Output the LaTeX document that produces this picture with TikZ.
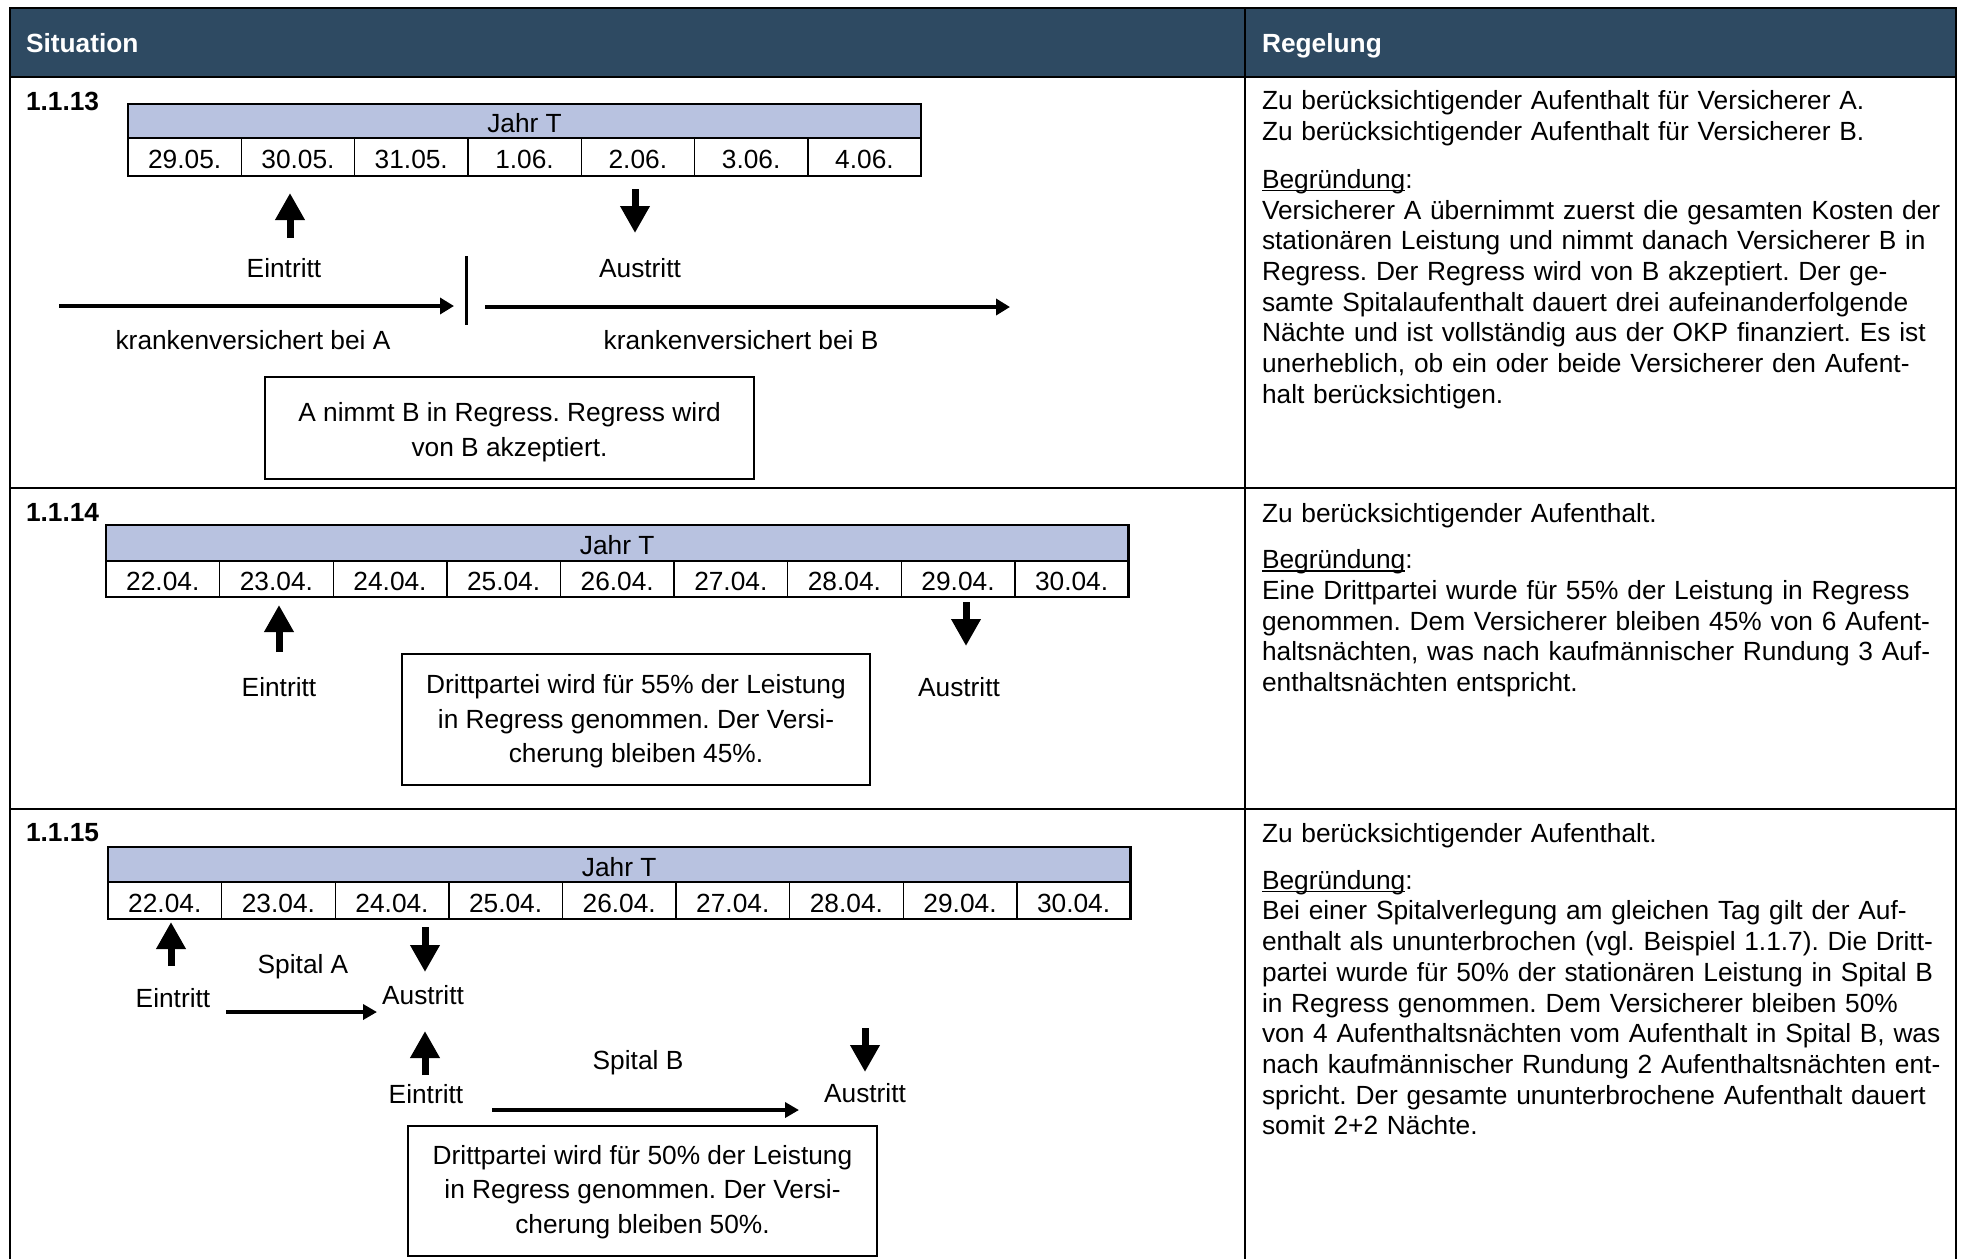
\documentclass[tikz,border=0pt]{standalone}
\usepackage{fontspec}
\setmainfont{Liberation Sans}
\usetikzlibrary{arrows.meta}
\definecolor{hdrblue}{RGB}{46,74,98}
\definecolor{jahrfill}{RGB}{184,194,224}
\newcommand\bodyfs{\fontsize{26.3}{30.7}\selectfont}
\newcommand\boxfs{\fontsize{26.3}{34.5}\selectfont}
\newcommand\ubeg{\leavevmode\setbox0\hbox{Begründung}\rlap{\rule[-2.8pt]{\wd0}{1.3pt}}\box0}
\frenchspacing
\begin{document}
\frenchspacing
\begin{tikzpicture}[x=1pt,y=-1pt,
  every node/.style={inner sep=0pt,outer sep=0pt},
  rule/.style={line width=2.6pt},
  hdrtxt/.style={anchor=base west,text=white,font=\bodyfs\bfseries},
  rowlbl/.style={anchor=base west,font=\bodyfs\bfseries},
  rtext/.style={anchor=north west,text width=760pt,align=left,font=\bodyfs\frenchspacing},
  lbl/.style={anchor=base,font=\bodyfs},
  cell/.style={draw,line width=1.4pt,font=\bodyfs,text height=23pt,text depth=0pt},
  jahrbox/.style={fill=jahrfill,font=\bodyfs,text height=23pt,text depth=0pt},
  frame/.style={line width=2.6pt},
  upar/.style={line width=7pt,-{Triangle[width=28pt,length=27pt]}},
  harr/.style={line width=4pt,-{Triangle[width=16pt,length=14pt]}},
  harrs/.style={line width=3.5pt,-{Triangle[width=15pt,length=14pt]}},
  note/.style={draw,line width=1.4pt,align=center,font=\boxfs\frenchspacing}]

\useasboundingbox (0,0) rectangle (1961,1259);
\fill[white] (0,0) rectangle (1961,1259);

% ---------- table ----------
\fill[hdrblue] (10,8) rectangle (1956,77);
\draw[rule] (10,1259) -- (10,8) -- (1956,8) -- (1956,1259);
\draw[rule] (10,77) -- (1956,77);
\draw[rule] (10,488) -- (1956,488);
\draw[rule] (10,809) -- (1956,809);
\draw[rule] (1245,8) -- (1245,1259);

\node[hdrtxt] (hS) at (26,52) {Situation};
\node[hdrtxt] (hR) at (1262,52) {Regelung};

\node[rowlbl] (r1) at (26,110) {1.1.13};
\node[rowlbl] (r2) at (26,521.7) {1.1.14};
\node[rowlbl] (r3) at (26,841.7) {1.1.15};

% ---------- right column ----------
\node[rtext] (t1) at (1262,88.5) {\strut Zu berücksichtigender Aufenthalt für Versicherer A.\\
Zu berücksichtigender Aufenthalt für Versicherer B.\\[17pt]
\ubeg:\\
Versicherer A übernimmt zuerst die gesamten Kosten der\\
stationären Leistung und nimmt danach Versicherer B in\\
Regress. Der Regress wird von B akzeptiert. Der ge-\\
samte Spitalaufenthalt dauert drei aufeinanderfolgende\\
Nächte und ist vollständig aus der OKP finanziert. Es ist\\
unerheblich, ob ein oder beide Versicherer den Aufent-\\
halt berücksichtigen.};

\node[rtext] (t2) at (1262,500.5) {\strut Zu berücksichtigender Aufenthalt.\\[16pt]
\ubeg:\\
Eine Drittpartei wurde für 55\% der Leistung in Regress\\
genommen. Dem Versicherer bleiben 45\% von 6 Aufent-\\
haltsnächten, was nach kaufmännischer Rundung 3 Auf-\\
enthaltsnächten entspricht.};

\node[rtext] (t3) at (1262,821) {\strut Zu berücksichtigender Aufenthalt.\\[16pt]
\ubeg:\\
Bei einer Spitalverlegung am gleichen Tag gilt der Auf-\\
enthalt als ununterbrochen (vgl. Beispiel 1.1.7). Die Dritt-\\
partei wurde für 50\% der stationären Leistung in Spital B\\
in Regress genommen. Dem Versicherer bleiben 50\%\\
von 4 Aufenthaltsnächten vom Aufenthalt in Spital B, was\\
nach kaufmännischer Rundung 2 Aufenthaltsnächten ent-\\
spricht. Der gesamte ununterbrochene Aufenthalt dauert\\
somit 2+2 Nächte.};

% ---------- row 1.1.13 ----------
\node[jahrbox,minimum width=793.1pt,minimum height=34pt] (j1) at (524.55,121) {Jahr T};
\foreach \d [count=\i] in {29.05.,30.05.,31.05.,1.06.,2.06.,3.06.,4.06.}
  \node[cell,minimum width=113.3pt,minimum height=38pt] (c1-\i) at ({128+113.3*(\i-0.5)},157) {\d};
\draw[frame] (j1.north west) rectangle (c1-7.south east);
\draw[frame] (j1.south west) -- (j1.south east);

\coordinate (p1a) at (290,238); \coordinate (p1b) at (290,193);
\draw[upar] (p1a) -- (p1b);
\coordinate (q1a) at (635,189); \coordinate (q1b) at (635,233);
\draw[upar] (q1a) -- (q1b);
\node[lbl] (e1) at (284,277) {Eintritt};
\node[lbl] (a1) at (640,277) {Austritt};
\coordinate (v1a) at (466,256); \coordinate (v1b) at (466,325);
\draw[line width=3pt] (v1a) -- (v1b);
\coordinate (h1a) at (59,306); \coordinate (h1b) at (454,306);
\draw[harr] (h1a) -- (h1b);
\coordinate (h2a) at (485,307); \coordinate (h2b) at (1010,307);
\draw[harr] (h2a) -- (h2b);
\node[lbl] (kA) at (253,349) {krankenversichert bei A};
\node[lbl] (kB) at (741,349) {krankenversichert bei B};
\node[note,minimum width=489pt,minimum height=102pt] (n1) at (509.5,428) {\rule{0pt}{27.4pt}A nimmt B in Regress. Regress wird\\von B akzeptiert.};

% ---------- row 1.1.14 ----------
\node[jahrbox,minimum width=1022.4pt,minimum height=36pt] (j2) at (617.2,543) {Jahr T};
\foreach \d [count=\i] in {22.04.,23.04.,24.04.,25.04.,26.04.,27.04.,28.04.,29.04.,30.04.}
  \node[cell,minimum width=113.6pt,minimum height=36pt] (c2-\i) at ({106+113.6*(\i-0.5)},579) {\d};
\draw[frame] (j2.north west) rectangle (c2-9.south east);
\draw[frame] (j2.south west) -- (j2.south east);

\coordinate (p2a) at (279,652); \coordinate (p2b) at (279,605);
\draw[upar] (p2a) -- (p2b);
\coordinate (q2a) at (966,602); \coordinate (q2b) at (966,646);
\draw[upar] (q2a) -- (q2b);
\node[lbl] (e2) at (279,696) {Eintritt};
\node[lbl] (a2) at (959,696) {Austritt};
\node[note,minimum width=468pt,minimum height=131pt] (n2) at (636,719.5) {\rule{0pt}{23.4pt}Drittpartei wird für 55\% der Leistung\\in Regress genommen. Der Versi-\\cherung bleiben 45\%.};

% ---------- row 1.1.15 ----------
\node[jahrbox,minimum width=1022.4pt,minimum height=35pt] (j3) at (619.2,864.5) {Jahr T};
\foreach \d [count=\i] in {22.04.,23.04.,24.04.,25.04.,26.04.,27.04.,28.04.,29.04.,30.04.}
  \node[cell,minimum width=113.6pt,minimum height=37pt] (c3-\i) at ({108+113.6*(\i-0.5)},900.5) {\d};
\draw[frame] (j3.north west) rectangle (c3-9.south east);
\draw[frame] (j3.south west) -- (j3.south east);

\coordinate (p3a) at (171,966); \coordinate (p3b) at (171,922);
\draw[upar] (p3a) -- (p3b);
\coordinate (q3a) at (425,927); \coordinate (q3b) at (425,972);
\draw[upar] (q3a) -- (q3b);
\coordinate (p4a) at (425,1075); \coordinate (p4b) at (425,1031);
\draw[upar] (p4a) -- (p4b);
\coordinate (q4a) at (865,1028); \coordinate (q4b) at (865,1072);
\draw[upar] (q4a) -- (q4b);
\node[lbl] (sA) at (303,973.5) {Spital A};
\node[lbl] (e3) at (173,1007.5) {Eintritt};
\node[lbl] (a3) at (423,1004) {Austritt};
\node[lbl] (sB) at (638,1069) {Spital B};
\node[lbl] (e4) at (426,1103) {Eintritt};
\node[lbl] (a4) at (865,1102) {Austritt};
\coordinate (h3a) at (226,1012); \coordinate (h3b) at (377,1012);
\draw[harrs] (h3a) -- (h3b);
\coordinate (h4a) at (492,1110); \coordinate (h4b) at (799,1110);
\draw[harrs] (h4a) -- (h4b);
\node[note,minimum width=469pt,minimum height=130pt] (n3) at (642.5,1191) {\rule{0pt}{21.4pt}Drittpartei wird für 50\% der Leistung\\in Regress genommen. Der Versi-\\cherung bleiben 50\%.};
\end{tikzpicture}
\end{document}
